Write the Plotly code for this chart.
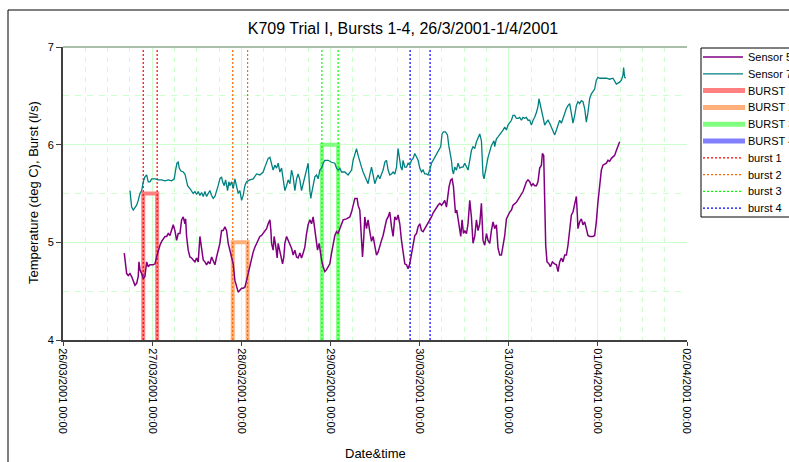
import pandas as pd
import plotly.graph_objects as go

# ---------------- data (hours since 26/03/2001 00:00, value) ----------------
T0 = pd.Timestamp("2001-03-26 00:00")

sensor5_readings = [
    (16.49,4.89),(16.87,4.78),(17.14,4.68),(17.57,4.66),(18.03,4.68),(18.48,4.65),(18.92,4.61),(19.37,4.56),
    (19.83,4.58),(20.26,4.65),(20.45,4.80),(20.72,4.72),(21.18,4.68),(21.61,4.63),(22.06,4.65),(22.52,4.80),
    (22.95,4.75),(23.41,4.77),(24.30,4.77),(24.75,4.78),(25.21,4.85),(25.64,4.92),(26.10,4.97),(26.56,5.01),
    (26.99,5.04),(27.45,5.06),(27.90,5.06),(28.33,5.09),(28.79,5.07),(29.25,5.14),(29.68,5.18),(30.13,5.12),
    (30.59,5.02),(31.02,5.09),(31.48,5.09),(31.94,5.23),(32.37,5.26),(32.83,5.19),(33.01,5.24),(33.28,5.06),
    (33.71,4.92),(34.17,4.85),(34.63,4.84),(35.06,4.82),(35.52,4.80),(35.97,4.84),(36.40,4.80),(36.86,5.06),
    (37.32,4.95),(37.75,4.82),(38.21,4.80),(38.66,4.77),(39.09,4.80),(39.55,4.78),(40.01,4.85),(40.44,4.80),
    (40.90,4.77),(41.35,4.85),(41.78,4.92),(42.24,4.99),(42.70,5.12),(43.13,5.12),(43.59,5.16),(44.04,5.12),
    (44.48,4.99),(44.93,4.92),(45.39,4.84),(45.82,4.78),(46.28,4.61),(46.74,4.55),(47.17,4.49),(47.62,4.51),
    (48.08,4.53),(48.51,4.53),(48.97,4.54),(49.43,4.61),(49.86,4.68),(50.31,4.78),(50.77,4.85),(51.20,4.90),
    (51.66,4.95),(52.12,4.99),(52.55,5.02),(53.00,5.06),(53.46,5.07),(53.89,5.09),(54.35,5.11),(54.81,5.14),
    (55.24,5.19),(55.70,5.23),(55.97,5.12),(56.15,4.99),(56.58,4.92),(56.85,5.06),(57.31,4.95),(57.66,4.84),
    (57.93,4.99),(58.39,4.92),(58.85,4.82),(59.11,4.78),(59.46,4.85),(59.73,4.99),(60.19,5.06),(60.62,5.02),
    (61.08,4.99),(61.53,4.94),(61.97,4.87),(62.42,4.92),(62.88,4.85),(63.31,4.84),(63.77,4.89),(64.22,4.84),
    (64.66,4.89),(65.11,4.95),(65.57,5.09),(66.00,5.18),(66.46,5.23),(66.92,5.19),(67.35,5.26),(67.81,5.12),
    (68.26,4.99),(68.53,4.92),(68.96,4.99),(69.15,4.92),(69.61,4.82),(70.04,4.75),(70.49,4.70),(70.95,4.72),
    (71.38,4.75),(71.84,4.78),(72.30,4.89),(72.73,4.99),(73.19,5.07),(73.64,5.11),(74.07,5.09),(74.53,5.14),
    (74.99,5.19),(75.42,5.23),(76.33,5.24),(77.22,5.26),(77.68,5.31),(78.11,5.38),(78.57,5.45),(79.18,5.45),
    (79.45,5.38),(79.91,5.33),(80.37,5.06),(80.64,4.85),(80.99,5.06),(81.25,5.26),(81.71,5.14),(82.14,5.23),
    (82.60,5.11),(83.06,5.01),(83.49,5.06),(83.95,4.95),(84.40,4.87),(84.83,4.90),(85.29,4.95),(85.75,5.02),
    (86.18,5.07),(86.64,5.16),(87.10,5.23),(87.53,5.26),(87.98,5.31),(88.44,5.16),(88.87,5.06),(89.33,5.26),
    (89.79,5.23),(90.21,5.28),(90.67,5.19),(91.13,5.02),(91.56,4.89),(92.02,4.78),(92.48,4.77),(92.91,4.73),
    (93.36,4.78),(93.82,4.89),(94.25,4.99),(94.71,5.07),(95.17,5.09),(95.60,5.16),(96.06,5.19),(96.51,5.12),
    (96.94,5.11),(97.40,5.14),(97.86,5.16),(98.29,5.19),(98.74,5.23),(99.20,5.26),(99.63,5.30),(100.09,5.33),
    (100.55,5.35),(100.98,5.38),(101.44,5.40),(101.90,5.38),(102.32,5.40),(102.78,5.43),(103.24,5.36),(103.51,5.47),
    (103.94,5.57),(104.40,5.64),(104.75,5.65),(105.12,5.57),(105.47,5.43),(105.66,5.30),(106.01,5.33),(106.36,5.23),
    (106.73,5.16),(107.09,5.06),(107.44,5.23),(107.81,5.09),(108.16,5.12),(108.62,5.09),(109.05,5.19),(109.51,5.43),
    (109.96,5.26),(110.39,4.99),(110.85,5.06),(111.31,5.23),(111.74,5.12),(112.20,5.19),(112.65,5.40),(113.08,5.02),
    (113.54,4.97),(114.00,5.09),(114.43,5.02),(114.89,4.99),(115.34,5.12),(115.78,5.21),(116.23,5.14),(116.69,5.18),
    (117.12,4.94),(117.58,4.87),(118.04,4.87),(118.47,4.97),(118.93,5.07),(119.38,5.24),(119.81,5.28),(120.27,5.31),
    (120.73,5.33),(121.16,5.38),(122.07,5.41),(122.96,5.47),(123.85,5.52),(124.30,5.57),(124.76,5.62),(125.19,5.64),
    (125.65,5.62),(126.11,5.58),(126.54,5.60),(126.99,5.58),(127.45,5.58),(127.88,5.62),(128.34,5.76),(128.80,5.79),
    (129.07,5.91),(129.42,5.89),(129.69,5.41),(129.96,4.97),(130.31,4.80),(130.85,4.78),(131.22,4.75),(131.76,4.80),
    (132.38,4.78),(132.84,4.77),(133.27,4.70),(133.72,4.80),(134.18,4.84),(134.61,4.80),(135.07,4.87),(135.53,4.87),
    (135.96,4.97),(136.41,5.14),(136.87,5.28),(137.30,5.31),(137.76,5.41),(138.21,5.47),(138.48,5.28),(138.64,5.14),
    (139.10,5.21),(139.56,5.24),(139.99,5.18),(140.45,5.21),(140.90,5.14),(141.33,5.07),(141.79,5.06),(142.68,5.06),
    (143.14,5.07),(143.59,5.21),(144.02,5.41),(144.48,5.62),(144.94,5.74),(145.37,5.79),(146.29,5.81),(146.72,5.84),
    (147.18,5.83),(147.64,5.86),(148.06,5.87),(148.52,5.89),(148.98,5.94),(149.41,5.98),(149.87,6.03),
]

sensor7_readings = [
    (18.03,5.53),(18.48,5.36),(18.92,5.33),(19.37,5.35),(19.83,5.38),(20.26,5.43),(20.72,5.50),(21.18,5.53),
    (21.61,5.62),(22.06,5.67),(22.52,5.69),(22.95,5.62),(23.41,5.62),(23.87,5.65),(24.75,5.65),(25.64,5.64),
    (26.56,5.64),(27.45,5.63),(28.33,5.64),(29.25,5.63),(29.95,5.65),(30.32,5.74),(30.67,5.81),(31.02,5.82),
    (31.29,5.76),(31.75,5.73),(32.37,5.72),(32.83,5.70),(33.09,5.64),(33.55,5.58),(34.17,5.55),(34.63,5.53),
    (35.06,5.50),(35.52,5.52),(35.97,5.49),(36.40,5.52),(36.86,5.48),(37.32,5.51),(37.75,5.47),(38.21,5.52),
    (38.66,5.47),(39.09,5.50),(39.55,5.53),(40.01,5.48),(40.44,5.45),(40.90,5.47),(41.35,5.52),(41.78,5.58),
    (42.24,5.65),(42.70,5.67),(42.97,5.62),(43.40,5.58),(43.78,5.64),(44.31,5.53),(44.66,5.62),(44.93,5.58),
    (45.39,5.62),(45.82,5.55),(46.28,5.65),(46.74,5.58),(47.17,5.50),(47.62,5.53),(48.08,5.43),(48.51,5.48),
    (48.97,5.58),(49.43,5.62),(50.31,5.64),(51.20,5.65),(52.12,5.70),(53.00,5.69),(53.89,5.72),(54.35,5.77),
    (54.81,5.81),(55.24,5.86),(55.70,5.87),(56.15,5.79),(56.58,5.74),(57.04,5.79),(57.50,5.76),(57.93,5.81),
    (58.39,5.72),(58.85,5.76),(59.27,5.64),(59.73,5.53),(60.19,5.58),(60.62,5.64),(61.08,5.60),(61.53,5.74),
    (61.97,5.67),(62.42,5.53),(62.88,5.65),(63.31,5.70),(63.77,5.64),(64.22,5.53),(64.66,5.60),(65.11,5.67),
    (65.57,5.76),(66.00,5.81),(66.46,5.53),(66.73,5.45),(66.92,5.50),(67.35,5.60),(67.81,5.67),(68.26,5.69),
    (68.69,5.65),(69.15,5.74),(69.61,5.76),(70.04,5.81),(70.49,5.84),(71.38,5.84),(72.30,5.82),(73.19,5.81),
    (73.64,5.76),(74.07,5.74),(74.53,5.76),(74.99,5.72),(75.87,5.72),(76.76,5.69),(77.68,5.74),(78.11,5.84),
    (78.57,5.89),(79.02,5.96),(79.45,5.89),(79.91,5.84),(80.37,5.77),(80.80,5.72),(81.71,5.65),(82.14,5.60),
    (82.60,5.69),(83.06,5.77),(83.49,5.69),(83.95,5.60),(84.40,5.65),(84.83,5.69),(85.29,5.65),(85.75,5.70),
    (86.18,5.74),(86.64,5.82),(87.10,5.84),(87.53,5.74),(87.98,5.69),(88.44,5.70),(88.87,5.72),(89.33,5.70),
    (89.79,5.77),(90.21,5.96),(90.48,5.87),(90.94,5.77),(91.29,5.74),(91.56,5.84),(92.02,5.77),(92.48,5.77),
    (92.91,5.81),(93.36,5.79),(93.82,5.84),(94.25,5.86),(94.71,5.91),(95.17,5.87),(95.60,5.84),(96.06,5.76),
    (96.51,5.72),(96.94,5.74),(97.40,5.70),(97.86,5.70),(98.29,5.69),(98.74,5.74),(99.20,5.81),(100.09,5.87),
    (100.98,5.93),(101.70,5.98),(102.05,6.11),(102.43,6.13),(102.97,6.13),(103.51,6.10),(103.86,5.99),(104.21,5.93),
    (104.58,5.84),(104.85,5.74),(105.12,5.70),(105.47,5.77),(105.93,5.74),(106.36,5.81),(106.82,5.76),(107.27,5.77),
    (107.70,5.77),(108.16,5.81),(108.62,5.77),(109.05,5.74),(109.51,5.84),(109.96,5.94),(110.39,5.98),(110.85,5.96),
    (111.31,6.03),(111.74,6.08),(112.20,6.11),(112.65,6.04),(113.08,5.69),(113.35,5.65),(113.73,5.74),(114.43,5.87),
    (115.34,5.99),(116.04,6.04),(116.23,5.98),(116.69,6.06),(117.12,6.08),(117.58,6.10),(118.04,6.13),(118.47,6.15),
    (118.93,6.18),(119.38,6.15),(119.81,6.20),(120.27,6.22),(120.73,6.25),(121.16,6.30),(121.61,6.30),(122.07,6.27),
    (122.50,6.27),(122.96,6.28),(123.42,6.25),(123.85,6.28),(124.30,6.27),(124.76,6.28),(125.19,6.25),(125.65,6.25),
    (126.11,6.20),(126.54,6.25),(126.99,6.28),(127.45,6.33),(127.88,6.39),(128.15,6.47),(128.53,6.40),(128.80,6.35),
    (129.23,6.27),(129.69,6.20),(130.15,6.23),(130.58,6.25),(131.03,6.22),(131.49,6.18),(131.92,6.13),(132.38,6.10),
    (132.84,6.15),(133.27,6.20),(133.72,6.25),(134.18,6.22),(134.61,6.27),(135.07,6.30),(135.53,6.37),(135.96,6.40),
    (136.41,6.42),(136.87,6.32),(137.30,6.22),(137.76,6.30),(138.21,6.40),(138.64,6.44),(139.10,6.42),(139.56,6.45),
    (139.99,6.44),(140.45,6.37),(140.90,6.23),(141.33,6.33),(141.79,6.47),(142.25,6.52),(142.68,6.54),(143.14,6.57),
    (143.59,6.66),(144.02,6.69),(144.48,6.68),(145.37,6.68),(146.29,6.68),(147.18,6.67),(148.06,6.68),(148.98,6.62),
    (149.87,6.64),(150.33,6.66),(150.76,6.71),(150.94,6.79),(151.21,6.69),(151.48,6.68),
]

burst_names = ["BURST 1", "BURST 2", "BURST 3", "BURST 4"]
marker_names = ["burst 1", "burst 2", "burst 3", "burst 4"]
burst_start_h = [21.6, 45.7, 69.7, 93.45]
burst_end_h = [25.35, 49.7, 74.07, 98.83]
burst_flow = [5.5, 5.0, 6.0, None]   # BURST 4 not visible within the axis range

y_range = [4, 7]
x_days = 7
tick_format = "%d/%m/%Y %H:%M"

# ---------------- styles ----------------
FONT = "Liberation Sans, Arial, sans-serif"
c_s5 = "#800080"
c_s7 = "#008080"
burst_colors = ["#FF8080", "#FFB07A", "#80FF80", "#8080FF"]
marker_colors = ["#FF0000", "#FF6600", "#00FF00", "#0000FF"]
grid_c = "#CCFFCC"

W, H = 789, 462
L, R, T, B = 63, 102, 47, 122
PW, PH = W - L - R, H - T - B


def px2x(px):
    return (px - L) / PW


def px2y(py):
    return (H - B - py) / PH


def ts(h):
    return T0 + pd.to_timedelta(h, unit="h")


fig = go.Figure()

# burst rectangles
for name, s, e, v, col in zip(burst_names, burst_start_h, burst_end_h, burst_flow, burst_colors):
    if v is None:
        continue
    fig.add_trace(go.Scatter(x=[ts(s), ts(s), ts(e), ts(e)], y=[0, v, v, 0], mode="lines",
                             line=dict(color=col, width=4), name=name, hoverinfo="skip"))

# burst marker dotted lines
for name, s, e, col in zip(marker_names, burst_start_h, burst_end_h, marker_colors):
    fig.add_trace(go.Scatter(x=[ts(s), ts(s), None, ts(e), ts(e)],
                             y=[y_range[0], y_range[1], None, y_range[0], y_range[1]],
                             mode="lines", line=dict(color=col, width=1.2, dash="2px,2px"), name=name))

s5_h, s5_v = zip(*sensor5_readings)
s7_h, s7_v = zip(*sensor7_readings)
fig.add_trace(go.Scatter(x=[ts(h) for h in s5_h], y=list(s5_v), mode="lines",
                         line=dict(color=c_s5, width=1.5), name="Sensor 5"))
fig.add_trace(go.Scatter(x=[ts(h) for h in s7_h], y=list(s7_v), mode="lines",
                         line=dict(color=c_s7, width=1.3), name="Sensor 7"))

shapes = []
annotations = []

# top grey border at y=7
shapes.append(dict(type="line", xref="paper", yref="paper", x0=0, x1=1, y0=1, y1=1,
                   line=dict(color="#A9BFA9", width=2)))
# outer chart border (top + left; right/bottom fall outside the picture)
shapes.append(dict(type="line", xref="paper", yref="paper", x0=px2x(8), x1=px2x(W + 20),
                   y0=px2y(10), y1=px2y(10), line=dict(color="black", width=1)))
shapes.append(dict(type="line", xref="paper", yref="paper", x0=px2x(8), x1=px2x(8),
                   y0=px2y(10), y1=px2y(H + 20), line=dict(color="black", width=1)))

# custom legend
shapes.append(dict(type="rect", xref="paper", yref="paper", x0=px2x(701), x1=px2x(W + 30),
                   y0=px2y(217), y1=px2y(48), line=dict(color="black", width=1), fillcolor="white"))
legend_entries = [("Sensor 5", c_s5, 1.3, "solid", 743),
                  ("Sensor 7", c_s7, 1.3, "solid", 743)]
legend_entries += [(n, c, 5, "solid", 745) for n, c in zip(burst_names, burst_colors)]
legend_entries += [(n, c, 1.3, "2px,2px", 743) for n, c in zip(marker_names, marker_colors)]
for i, (name, col, w, dash, xend) in enumerate(legend_entries):
    yc = 57 + 16.8 * i
    shapes.append(dict(type="line", xref="paper", yref="paper", x0=px2x(703), x1=px2x(xend),
                       y0=px2y(yc), y1=px2y(yc), line=dict(color=col, width=w, dash=dash)))
    annotations.append(dict(xref="paper", yref="paper", x=px2x(746), y=px2y(yc), text=name,
                            showarrow=False, xanchor="left", yanchor="middle",
                            font=dict(family=FONT, size=11, color="black")))

# axis titles
annotations.append(dict(xref="paper", yref="paper", x=px2x(375), y=px2y(453), text="Date&time",
                        showarrow=False, xanchor="center", yanchor="middle",
                        font=dict(family=FONT, size=13, color="black")))
annotations.append(dict(xref="paper", yref="paper", x=px2x(33), y=px2y(193),
                        text="Temperature (deg C), Burst (l/s)", textangle=-90,
                        showarrow=False, xanchor="center", yanchor="middle",
                        font=dict(family=FONT, size=13, color="black")))

fig.update_layout(
    width=W, height=H,
    margin=dict(l=L, r=R, t=T, b=B, autoexpand=False),
    paper_bgcolor="white", plot_bgcolor="white",
    showlegend=False,
    font=dict(family=FONT, size=11, color="black"),
    title=dict(text="K709 Trial I, Bursts 1-4, 26/3/2001-1/4/2001", x=403 / W, xanchor="center",
               y=1 - 28 / H, yanchor="middle", yref="container", xref="container",
               font=dict(family=FONT, size=16, color="black")),
    xaxis=dict(type="date", range=[T0, T0 + pd.Timedelta(days=x_days)],
               tick0=T0, dtick=86400000, tickformat=tick_format, tickangle=90,
               showgrid=True, gridcolor=grid_c, gridwidth=1,
               showline=True, linecolor="#404040", linewidth=2,
               ticks="outside", ticklen=4, tickcolor="#404040",
               tickfont=dict(family=FONT, size=11, color="black"), zeroline=False,
               minor=dict(dtick=21600000, showgrid=True, gridcolor=grid_c, griddash="5px,5px", ticks="")),
    yaxis=dict(range=y_range, dtick=1, showgrid=True, gridcolor=grid_c, gridwidth=1,
               showline=True, linecolor="#404040", linewidth=2,
               ticks="outside", ticklen=5, tickcolor="#404040",
               tickfont=dict(family=FONT, size=11, color="black"), zeroline=False,
               minor=dict(dtick=0.5, showgrid=True, gridcolor=grid_c, griddash="6px,6px", ticks="")),
    shapes=shapes,
    annotations=annotations,
)

# remove the default page margin so the 789x462 figure fills the window exactly
fig.write_html("out.html", config={"displayModeBar": False},
               post_script="document.body.style.margin='0';document.body.style.overflow='hidden';")
